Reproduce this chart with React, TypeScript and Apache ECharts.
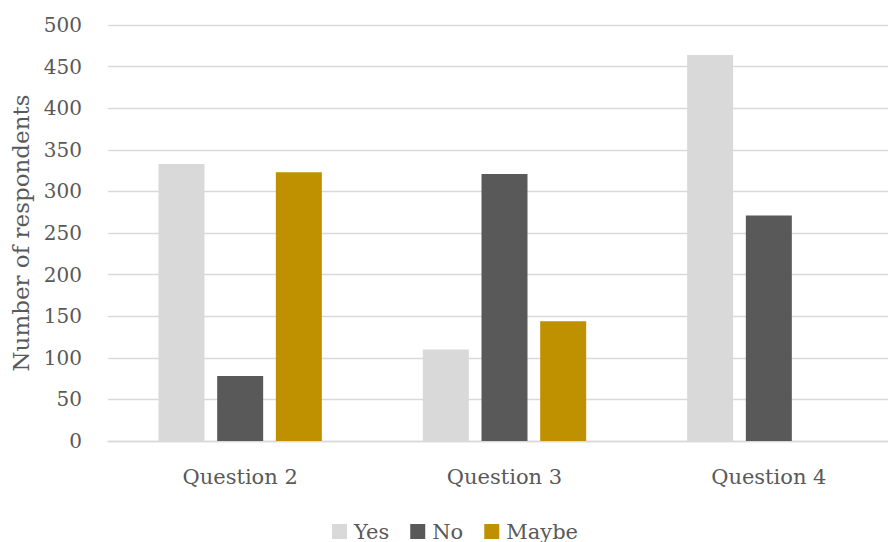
import React, { useEffect, useRef } from "react";
import * as echarts from "echarts";

const categories = ["Question 2", "Question 3", "Question 4"];
const yesValues = [333, 110, 464];
const noValues = [78, 321, 271];
const maybeValues = [323, 144, 0];
const seriesNames = ["Yes", "No", "Maybe"];

const FONT = "'DejaVu Serif', serif";
const TEXT = "#595959";

export default function App() {
  const ref = useRef<HTMLDivElement>(null);
  useEffect(() => {
    if (!ref.current) return;
    const chart = echarts.init(ref.current, undefined, { renderer: "svg" });
    chart.setOption({
      animation: false,
      textStyle: { fontFamily: FONT, color: TEXT },
      grid: { left: 108, right: 9, top: 25, bottom: 101, containLabel: false },
      legend: {
        data: seriesNames,
        left: 327,
        top: 516,
        itemWidth: 15,
        itemHeight: 15,
        itemGap: 21,
        icon: "rect",
        textStyle: { fontFamily: FONT, color: TEXT, fontSize: 21, padding: [0, 0, 0, 2] },
      },
      xAxis: {
        type: "category",
        data: categories,
        axisLine: { lineStyle: { color: "#d9d9d9", width: 1.3 } },
        axisTick: { show: false },
        axisLabel: { fontFamily: FONT, color: TEXT, fontSize: 21, margin: 25 },
      },
      yAxis: {
        type: "value",
        min: 0,
        max: 500,
        interval: 50,
        name: "Number of respondents",
        nameLocation: "middle",
        nameGap: 75,
        nameTextStyle: { fontFamily: FONT, color: TEXT, fontSize: 23 },
        axisLine: { show: false },
        axisTick: { show: false },
        axisLabel: { fontFamily: FONT, color: TEXT, fontSize: 20, margin: 26 },
        splitLine: { lineStyle: { color: "#d9d9d9", width: 1.3 } },
      },
      series: [
        { name: "Yes", type: "bar", data: yesValues, itemStyle: { color: "#d9d9d9" }, barGap: "27.6%", barCategoryGap: "38.2%" },
        { name: "No", type: "bar", data: noValues, itemStyle: { color: "#595959" } },
        { name: "Maybe", type: "bar", data: maybeValues, itemStyle: { color: "#bf9000" } },
      ],
    });
    return () => chart.dispose();
  }, []);
  return (
    <div
      style={{ position: "absolute", left: 0, top: 0, width: 888, height: 542, overflow: "hidden", background: "#fff" }}
    >
      <div ref={ref} style={{ width: 910, height: 542 }} />
    </div>
  );
}
